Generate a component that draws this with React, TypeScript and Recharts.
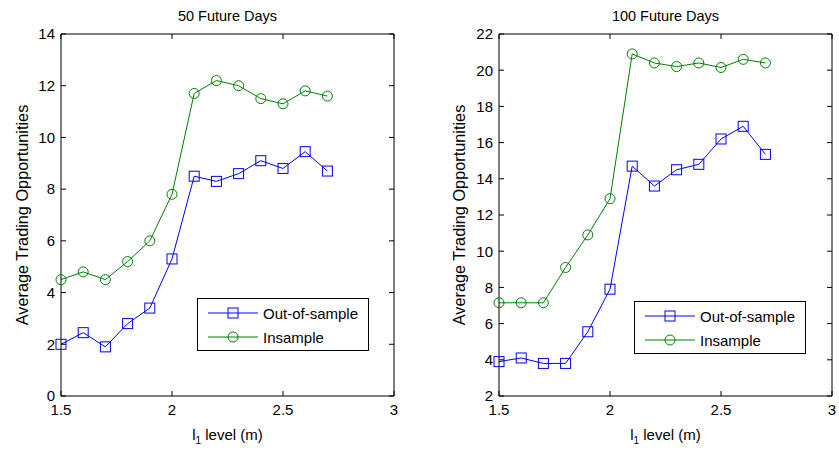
import React from 'react'
import { LineChart, Line, XAxis, YAxis, Legend, Label } from 'recharts'

const levels = [1.5, 1.6, 1.7, 1.8, 1.9, 2.0, 2.1, 2.2, 2.3, 2.4, 2.5, 2.6, 2.7]
const out50 = [2.0, 2.45, 1.9, 2.8, 3.4, 5.3, 8.5, 8.3, 8.6, 9.1, 8.8, 9.45, 8.7]
const in50 = [4.5, 4.8, 4.5, 5.2, 6.0, 7.8, 11.7, 12.2, 12.0, 11.5, 11.3, 11.8, 11.6]
const out100 = [3.9, 4.1, 3.8, 3.8, 5.55, 7.9, 14.7, 13.6, 14.5, 14.8, 16.2, 16.9, 15.35]
const in100 = [7.15, 7.15, 7.15, 9.1, 10.9, 12.9, 20.9, 20.4, 20.2, 20.4, 20.15, 20.6, 20.4]
const xTicks = [1.5, 2, 2.5, 3]
const yTicks50 = [0, 2, 4, 6, 8, 10, 12, 14]
const yTicks100 = [2, 4, 6, 8, 10, 12, 14, 16, 18, 20, 22]

const FONT = '"Liberation Sans", Arial, sans-serif'
const BLUE = '#0000ff'
const GREEN = '#008000'
const tickStyle = { fontSize: 15, fill: '#000', fontFamily: FONT }
const blank = () => ''

const Square = (p: any) => (
  <rect key={p.index} x={p.cx - 5} y={p.cy - 5} width={10} height={10} fill='none' stroke={BLUE} strokeWidth={1} />
)
const Circle = (p: any) => (
  <circle key={p.index} cx={p.cx} cy={p.cy} r={5} fill='none' stroke={GREEN} strokeWidth={1} />
)

function LegendBox({ payload }: any) {
  const items = (payload || [])
    .filter((e: any) => e.type !== 'none')
    .sort((a: any, b: any) => (a.dataKey === 'out' ? -1 : 1) - (b.dataKey === 'out' ? -1 : 1))
  return (
    <div style={{ border: '1px solid #000', background: '#fff', width: 172, height: 53, boxSizing: 'border-box', paddingTop: 2 }}>
      {items.map((e: any, i: number) => (
        <div key={i} style={{ display: 'flex', alignItems: 'center', height: 24 }}>
          <svg width={60} height={14} style={{ marginLeft: 10 }}>
            <line x1={0} y1={7} x2={50} y2={7} stroke={e.color} />
            {e.dataKey === 'out'
              ? <rect x={20} y={2} width={10} height={10} fill='none' stroke={e.color} />
              : <circle cx={25} cy={7} r={5} fill='none' stroke={e.color} />}
          </svg>
          <span style={{ fontFamily: FONT, fontSize: 15, color: '#000', marginLeft: -5 }}>{e.value}</span>
        </div>
      ))}
    </div>
  )
}

function Panel({ title, out, ins, yTicks, width, yAxisWidth, marginRight, legendLeft, legendTop, yLabelX }: any) {
  const rows = levels.map((x, i) => ({ x, out: out[i], ins: ins[i] }))
  const yDomain = [yTicks[0], yTicks[yTicks.length - 1]]
  return (
    <LineChart width={width} height={450} data={rows} margin={{ top: 33, right: marginRight - 1, bottom: 0, left: 0 }}>
      <XAxis dataKey='x' type='number' domain={[1.5, 3]} ticks={xTicks} height={54}
        tickSize={-5} tickMargin={13} tick={tickStyle} stroke='#000' tickFormatter={(v: number) => String(v)}>
        <Label content={({ viewBox }: any) => (
          <text x={viewBox.x + viewBox.width / 2} y={440} textAnchor='middle' fontFamily={FONT} fontSize={15} fill='#000'>
            <tspan>l</tspan><tspan dy={4} fontSize={10}>1</tspan><tspan dy={-4}>{'  level (m)'}</tspan>
          </text>
        )} />
      </XAxis>
      <XAxis xAxisId='top' orientation='top' dataKey='x' type='number' domain={[1.5, 3]} ticks={xTicks} height={1}
        tickSize={-5} tickFormatter={blank} stroke='#000'>
        <Label content={({ viewBox }: any) => (
          <text x={viewBox.x + viewBox.width / 2} y={21} textAnchor='middle' fontFamily={FONT} fontSize={14.5}
            fontWeight='normal' fill='#000' stroke='none'>{title}</text>
        )} />
      </XAxis>
      <YAxis type='number' domain={yDomain} ticks={yTicks} width={yAxisWidth} interval={0}
        tickSize={-5} tickMargin={11} tick={tickStyle} stroke='#000'>
        <Label content={({ viewBox }: any) => (
          <text x={yLabelX} y={viewBox.y + viewBox.height / 2} textAnchor='middle' dominantBaseline='central'
            transform={`rotate(-90 ${yLabelX} ${viewBox.y + viewBox.height / 2})`} fontFamily={FONT} fontSize={16.3} fill='#000'>
            Average Trading Opportunities
          </text>
        )} />
      </YAxis>
      <YAxis yAxisId='right' orientation='right' type='number' domain={yDomain} ticks={yTicks} width={1} interval={0}
        tickSize={-5} tickFormatter={blank} stroke='#000' />
      <Legend layout='horizontal' verticalAlign='middle' align='center' content={<LegendBox />} itemSorter={null as any}
        wrapperStyle={{ left: legendLeft, top: legendTop, width: 172, height: 53 }} />
      <Line dataKey='out' name='Out-of-sample' stroke={BLUE} strokeWidth={1} dot={Square} isAnimationActive={false} />
      <Line dataKey='ins' name='Insample' stroke={GREEN} strokeWidth={1} dot={Circle} isAnimationActive={false} />
      <Line dataKey='ins' yAxisId='right' xAxisId='top' stroke='none' dot={false} legendType='none' isAnimationActive={false} />
    </LineChart>
  )
}

export default function App() {
  return (
    <div style={{ position: 'absolute', left: 0, top: 0, width: 839, height: 450, display: 'flex', background: '#fff' }}>
      <Panel title='50 Future Days' out={out50} ins={in50} yTicks={yTicks50} width={420} yAxisWidth={61}
        marginRight={26} legendLeft={197} legendTop={298} yLabelX={22} />
      <Panel title='100 Future Days' out={out100} ins={in100} yTicks={yTicks100} width={419} yAxisWidth={79}
        marginRight={7} legendLeft={214} legendTop={301} yLabelX={39} />
    </div>
  )
}
